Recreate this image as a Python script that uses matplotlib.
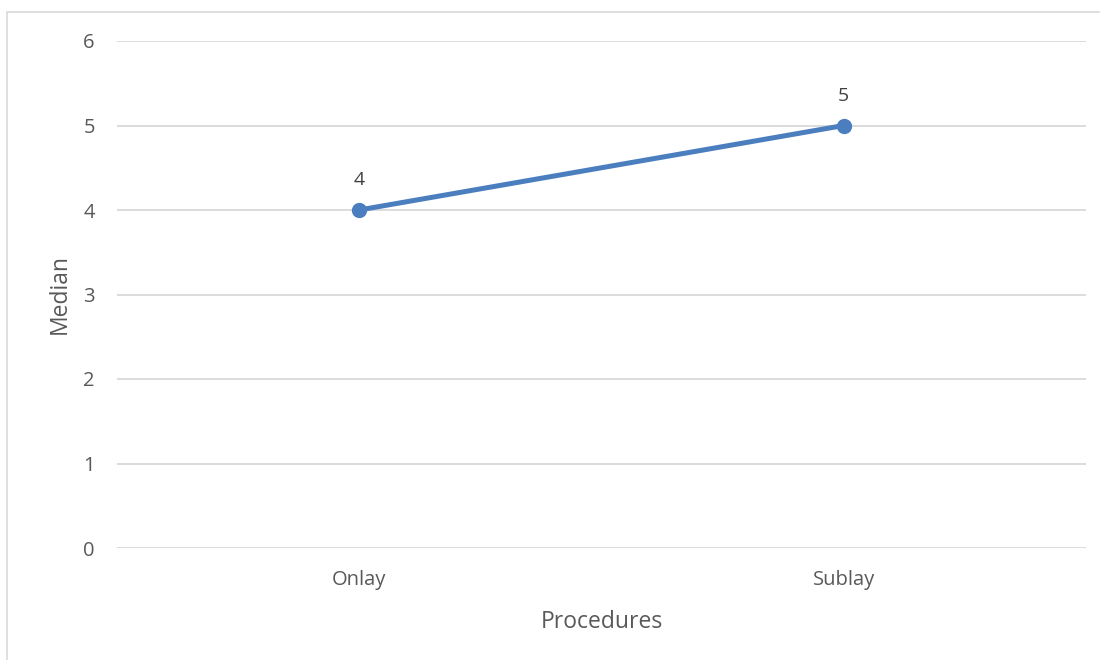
import matplotlib
matplotlib.use("Agg")
import matplotlib.pyplot as plt
from matplotlib.patches import Rectangle

procedures = ["Onlay", "Sublay"]
medians = [4, 5]
y_ticks = [0, 1, 2, 3, 4, 5, 6]

plt.rcParams["font.family"] = ["Open Sans", "DejaVu Sans"]
text_color = "#595959"
line_color = "#4A7EBF"

fig = plt.figure(figsize=(11, 6.6), dpi=100)
ax = fig.add_axes([117 / 1100, 1 - 548 / 660, (1086 - 117) / 1100, (548 - 41) / 660])

x = list(range(len(procedures)))
ax.plot(x, medians, color=line_color, linewidth=3.6, marker="o",
        markersize=10, solid_capstyle="round", zorder=3)
for xi, v in zip(x, medians):
    ax.annotate(f"{v}", (xi, v), xytext=(0, 15), textcoords="offset points",
                ha="center", va="bottom", fontsize=14, color="#404040")

ax.set_xlim(-0.5, len(procedures) - 0.5)
ax.set_ylim(min(y_ticks), max(y_ticks))
ax.set_yticks(y_ticks)
ax.set_xticks(x)
ax.set_xticklabels(procedures)
ax.grid(axis="y", color="#D9D9D9", linewidth=1.3)
ax.set_axisbelow(True)
for s in ax.spines.values():
    s.set_visible(False)
ax.tick_params(length=0, labelsize=14.5, colors=text_color, pad=16)
ax.tick_params(axis="x", pad=16)
ax.set_xlabel("Procedures", fontsize=16.5, color=text_color, labelpad=14)
ax.set_ylabel("Median", fontsize=16.5, color=text_color, labelpad=8)

# chart area frame
fig.patches.append(Rectangle((7 / 1100, -0.1), 1.2, 1 - 12 / 660 + 0.1,
                             transform=fig.transFigure, fill=False,
                             edgecolor="#D9D9D9", linewidth=1.2))

fig.savefig("out.png", dpi=100)
